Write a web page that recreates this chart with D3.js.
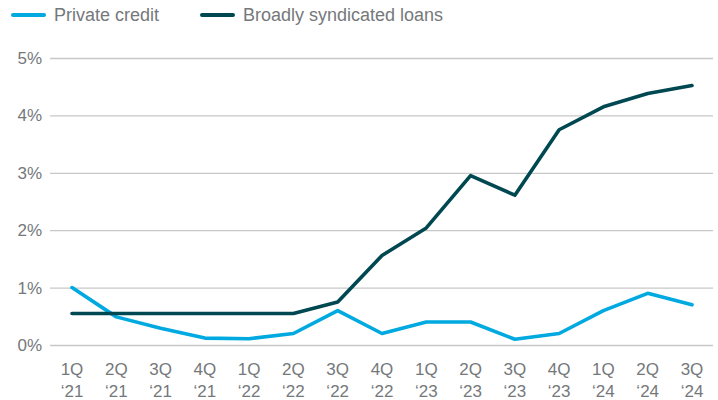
<!DOCTYPE html>
<html>
<head>
<meta charset="utf-8">
<script src="https://cdn.jsdelivr.net/npm/d3@7"></script>
<style>
  body { margin: 0; background: #fff; }
  text { font-family: "Liberation Sans", Arial, sans-serif; fill: #75787b; }
</style>
</head>
<body>
<div id="chart"></div>
<script>
var quarters = ["1Q", "2Q", "3Q", "4Q", "1Q", "2Q", "3Q", "4Q", "1Q", "2Q", "3Q", "4Q", "1Q", "2Q", "3Q"];
var years = ["\u201821", "\u201821", "\u201821", "\u201821", "\u201822", "\u201822", "\u201822", "\u201822",
    "\u201823", "\u201823", "\u201823", "\u201823", "\u201824", "\u201824", "\u201824"];
var privateCredit = [1.0, 0.49, 0.29, 0.12, 0.11, 0.2, 0.6, 0.2, 0.4, 0.4, 0.1, 0.2, 0.6, 0.9, 0.7];
var bslLoans = [0.55, 0.55, 0.55, 0.55, 0.55, 0.55, 0.75, 1.56, 2.04, 2.95, 2.61, 3.75, 4.15, 4.38, 4.52];
var yTicks = [0, 1, 2, 3, 4, 5];
var seriesNames = ["Private credit", "Broadly syndicated loans"];
var seriesColors = ["#00a9e0", "#004851"];

var svgWidth = 718;
var svgHeight = 400;

var svg = d3.select("#chart")
    .append("svg")
    .attr("width", svgWidth)
    .attr("height", svgHeight);

var xScale = d3.scalePoint()
    .domain(d3.range(quarters.length))
    .range([72, 692]);

var yScale = d3.scaleLinear()
    .domain([0, 5])
    .range([345, 58]);

// gridlines + y labels
var yAxis = d3.axisLeft(yScale)
    .tickValues(yTicks)
    .tickSize(-663)
    .tickPadding(8)
    .tickFormat(d => d + "%");

var yG = svg.append("g")
    .attr("transform", "translate(50,0)")
    .call(yAxis);
yG.select(".domain").remove();
yG.selectAll(".tick line")
    .attr("stroke", "#c8c8c8")
    .attr("stroke-width", 1.3);
yG.selectAll(".tick text")
    .attr("font-size", 17)
    .attr("fill", "#75787b")
    .attr("font-family", "Liberation Sans, Arial, sans-serif");

// x labels, two lines each
var xLab = svg.append("g").selectAll("text")
    .data(quarters)
    .enter()
    .append("text")
    .attr("x", (d, i) => xScale(i))
    .attr("text-anchor", "middle")
    .attr("font-size", 17);
xLab.append("tspan")
    .attr("x", (d, i) => xScale(i))
    .attr("y", 375)
    .text(d => d);
xLab.append("tspan")
    .attr("x", (d, i) => xScale(i))
    .attr("y", 397)
    .text((d, i) => years[i]);

// lines
var line = d3.line()
    .x((d, i) => xScale(i))
    .y(d => yScale(d));

[privateCredit, bslLoans].forEach(function (vals, k) {
    svg.append("path")
        .datum(vals)
        .attr("d", line)
        .attr("fill", "none")
        .attr("stroke", seriesColors[k])
        .attr("stroke-width", 3.6)
        .attr("stroke-linejoin", "round")
        .attr("stroke-linecap", "round");
});

// legend
var legendX = [13, 202];
seriesNames.forEach(function (name, k) {
    svg.append("line")
        .attr("x1", legendX[k])
        .attr("x2", legendX[k] + 31)
        .attr("y1", 15)
        .attr("y2", 15)
        .attr("stroke", seriesColors[k])
        .attr("stroke-width", 4)
        .attr("stroke-linecap", "round");
    svg.append("text")
        .attr("x", legendX[k] + 41)
        .attr("y", 21)
        .attr("font-size", 18)
        .text(name);
});
</script>
</body>
</html>
